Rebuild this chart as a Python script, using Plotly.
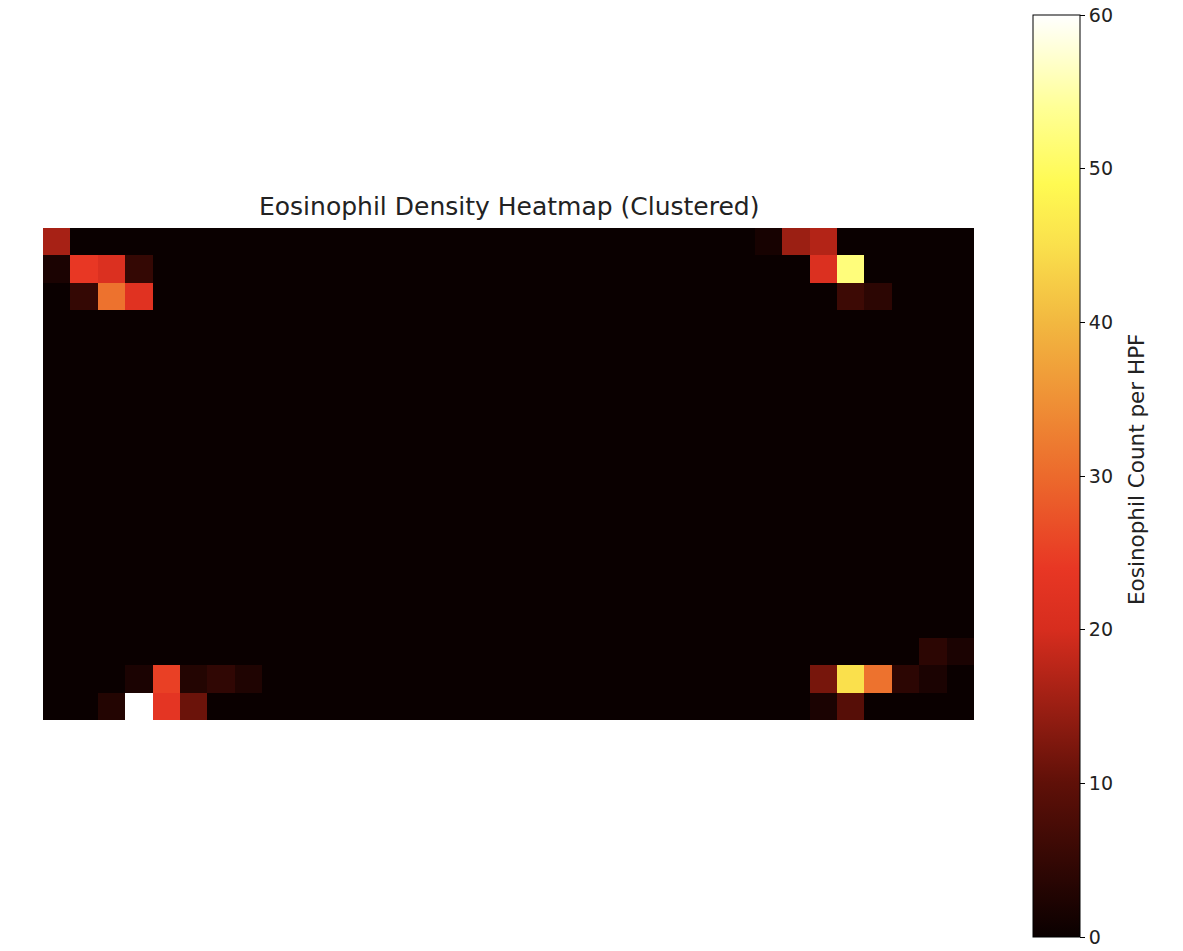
import numpy as np
import plotly.graph_objects as go

n_rows = 18
n_cols = 34

# Non-background cells (row index from top, column index from left, eosinophil count)
hot_rows = [0, 0, 0, 0, 1, 1, 1, 1, 1, 1, 2, 2, 2, 2, 2,
            15, 15, 16, 16, 16, 16, 16, 16, 16, 16, 16, 16, 17, 17, 17, 17, 17, 17]
hot_cols = [0, 26, 27, 28, 0, 1, 2, 3, 28, 29, 1, 2, 3, 29, 30,
            32, 33, 3, 4, 5, 6, 7, 28, 29, 30, 31, 32, 2, 3, 4, 5, 28, 29]
hot_vals = [16, 1.5, 15, 17, 2, 24, 21, 5, 21, 52, 5, 31, 22, 6, 4,
            4, 2, 2, 25, 3, 4.5, 2.5, 12, 45, 31, 4, 2, 3, 60, 23, 11, 2, 9]

cbar_ticks = [0, 10, 20, 30, 40, 50, 60]

z = np.zeros((n_rows, n_cols))
for r, c, v in zip(hot_rows, hot_cols, hot_vals):
    z[r, c] = v

colorscale = [
    [0.0, "rgb(10,0,0)"],
    [0.1667, "rgb(95,16,8)"],
    [0.3333, "rgb(215,45,30)"],
    [0.4, "rgb(232,55,36)"],
    [0.5, "rgb(236,106,44)"],
    [0.6667, "rgb(242,184,64)"],
    [0.75, "rgb(250,224,76)"],
    [0.8167, "rgb(255,250,82)"],
    [0.9, "rgb(255,255,150)"],
    [1.0, "rgb(255,255,255)"],
]

W, H = 1183, 951
x0, x1 = 43, 974
y0, y1 = 228, 720

fig = go.Figure(go.Heatmap(
    z=z,
    colorscale=colorscale,
    zmin=0, zmax=60,
    xgap=0, ygap=0,
    colorbar=dict(
        x=1033 / W, xanchor="left",
        y=1 - 15 / H, yanchor="top",
        lenmode="pixels", len=922,
        thicknessmode="pixels", thickness=47,
        outlinecolor="black", outlinewidth=1,
        ticks="outside", ticklen=5, tickcolor="black",
        tickvals=cbar_ticks, ticktext=[str(t) for t in cbar_ticks],
        tickfont=dict(family="DejaVu Sans", size=19, color="#222"),
        xpad=0, ypad=0,
    ),
    hoverinfo="z",
))

fig.update_layout(
    width=W, height=H,
    margin=dict(l=0, r=0, t=0, b=0),
    paper_bgcolor="white", plot_bgcolor="white",
    xaxis=dict(domain=[x0 / W, x1 / W], range=[-0.5, n_cols - 0.5],
               visible=False, showgrid=False, zeroline=False),
    yaxis=dict(domain=[1 - y1 / H, 1 - y0 / H], range=[n_rows - 0.5, -0.5],
               visible=False, showgrid=False, zeroline=False),
    annotations=[
        dict(
            text="Eosinophil Density Heatmap (Clustered)",
            xref="paper", yref="paper",
            x=(x0 + x1) / 2 / W, y=1 - (y0 - 5) / H,
            xanchor="center", yanchor="bottom", showarrow=False,
            font=dict(family="DejaVu Sans", size=25, color="#222"),
        ),
        dict(
            text="Eosinophil Count per HPF",
            xref="paper", yref="paper",
            x=1136 / W, y=1 - 470 / H,
            xanchor="center", yanchor="middle", showarrow=False,
            textangle=-90,
            font=dict(family="DejaVu Sans", size=21.5, color="#222"),
        ),
    ],
)

fig.write_html(
    "out.html",
    config={"displayModeBar": False},
    post_script="document.body.style.margin='0';document.body.style.overflow='hidden';",
)
